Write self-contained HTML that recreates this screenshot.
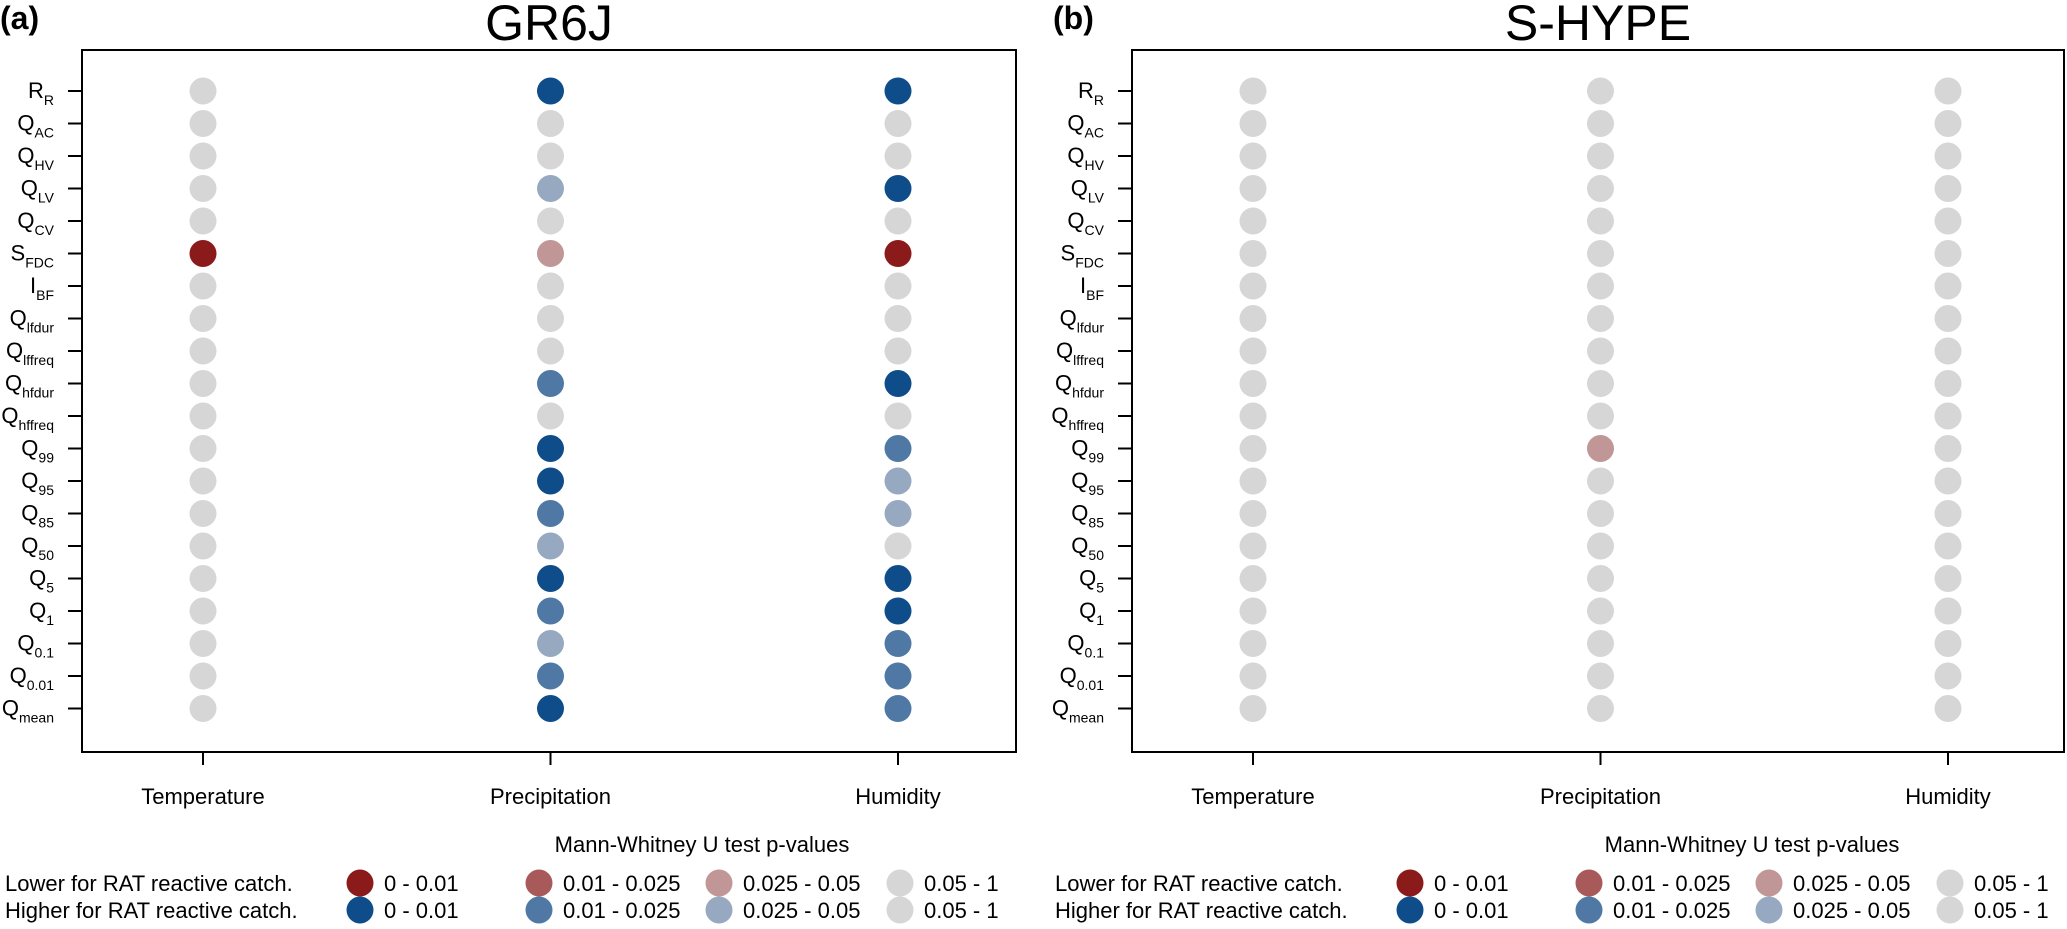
<!DOCTYPE html>
<html><head><meta charset="utf-8"><style>
html,body{margin:0;padding:0;background:#fff;}
svg{display:block;font-family:"Liberation Sans",Arial,sans-serif;}
</style></head><body>
<svg id="chart" width="2067" height="929" viewBox="0 0 2067 929" xmlns="http://www.w3.org/2000/svg"></svg>
<script>
const rowLabels=[["R","R"],["Q","AC"],["Q","HV"],["Q","LV"],["Q","CV"],["S","FDC"],["I","BF"],["Q","lfdur"],["Q","lffreq"],["Q","hfdur"],["Q","hffreq"],["Q","99"],["Q","95"],["Q","85"],["Q","50"],["Q","5"],["Q","1"],["Q","0.1"],["Q","0.01"],["Q","mean"]];
const categories=["Temperature","Precipitation","Humidity"];
const gr6jTemperature=["G","G","G","G","G","DR","G","G","G","G","G","G","G","G","G","G","G","G","G","G"];
const gr6jPrecipitation=["DB","G","G","LB","G","LR","G","G","G","MB","G","DB","DB","MB","LB","DB","MB","LB","MB","DB"];
const gr6jHumidity=["DB","G","G","DB","G","DR","G","G","G","DB","G","MB","LB","LB","G","DB","DB","MB","MB","MB"];
const shypeTemperature=["G","G","G","G","G","G","G","G","G","G","G","G","G","G","G","G","G","G","G","G"];
const shypePrecipitation=["G","G","G","G","G","G","G","G","G","G","G","LR","G","G","G","G","G","G","G","G"];
const shypeHumidity=["G","G","G","G","G","G","G","G","G","G","G","G","G","G","G","G","G","G","G","G"];
const colors={G:"#d6d6d6",DR:"#8b1a1a",MR:"#a85a5a",LR:"#c19696",DB:"#0e4c8a",MB:"#4f79a4",LB:"#96a9c1"};

const NS="http://www.w3.org/2000/svg";
const svg=document.getElementById('chart');
function mk(tag,attrs,parent){const e=document.createElementNS(NS,tag);for(const k in attrs)e.setAttribute(k,attrs[k]);(parent||svg).appendChild(e);return e;}

const panels=[
 {left:82,right:1016,title:"GR6J",tag:"(a)",tagX:0,series:[gr6jTemperature,gr6jPrecipitation,gr6jHumidity],key:"gr6j"},
 {left:1132,right:2064,title:"S-HYPE",tag:"(b)",tagX:1053,series:[shypeTemperature,shypePrecipitation,shypeHumidity],key:"shype"}
];
const plotTop=50,plotBottom=752;
function yPos(i){return 91+i*32.5;}
panels.forEach(p=>{
 const g=mk('g',{});
 
 
 const xPos=j=>p.left+121+j*347.5;
 const t=mk('text',{x:p.tagX,y:29,'font-size':32,'font-weight':'bold'},g);t.textContent=p.tag;
 
 
 const ti=mk('text',{x:(p.left+p.right)/2,y:40,'font-size':50,'text-anchor':'middle'},g);ti.textContent=p.title;
 
 
 const box=mk('rect',{x:p.left,y:plotTop,width:p.right-p.left,height:plotBottom-plotTop,fill:'none',stroke:'#000','stroke-width':2},g);
 
 
 rowLabels.forEach((lab,i)=>{
  const y=yPos(i);
  mk('line',{x1:p.left-14,x2:p.left,y1:y,y2:y,stroke:'#000','stroke-width':2},g);
  const tx=mk('text',{x:p.left-28,y:y+7,'font-size':22,'text-anchor':'end'},g);
  
  
  const a=mk('tspan',{},tx);a.textContent=lab[0];
  const b=mk('tspan',{dy:7,'font-size':14},tx);b.textContent=lab[1];
 });
 categories.forEach((c,j)=>{
  const x=xPos(j);
  mk('line',{x1:x,x2:x,y1:plotBottom,y2:plotBottom+13,stroke:'#000','stroke-width':2},g);
  const tx=mk('text',{x:x,y:804,'font-size':22,'text-anchor':'middle'},g);tx.textContent=c;
  
  
  p.series[j].forEach((v,i)=>{
   const cc=mk('circle',{cx:x,cy:yPos(i),r:13.5,fill:colors[v]},g);
   
   
  });
 });
 const lg=mk('g',{},g);
 
 
 const off=p.left-82;
 const lt=mk('text',{x:off+702,y:852,'font-size':22,'text-anchor':'middle'},lg);lt.textContent="Mann-Whitney U test p-values";
 const rows=[["Lower for RAT reactive catch.",["DR","MR","LR","G"],883],["Higher for RAT reactive catch.",["DB","MB","LB","G"],910]];
 const dx=[360,539,719,900],labs=["0 - 0.01","0.01 - 0.025","0.025 - 0.05","0.05 - 1"];
 rows.forEach(r=>{
  const t1=mk('text',{x:off+5,y:r[2]+8,'font-size':22},lg);t1.textContent=r[0];
  r[1].forEach((col,k)=>{
   const cc=mk('circle',{cx:off+dx[k],cy:r[2],r:13.5,fill:colors[col]},lg);
   
   
   const t2=mk('text',{x:off+dx[k]+24,y:r[2]+8,'font-size':22},lg);t2.textContent=labs[k];
  });
 });
});
</script>
</body></html>
